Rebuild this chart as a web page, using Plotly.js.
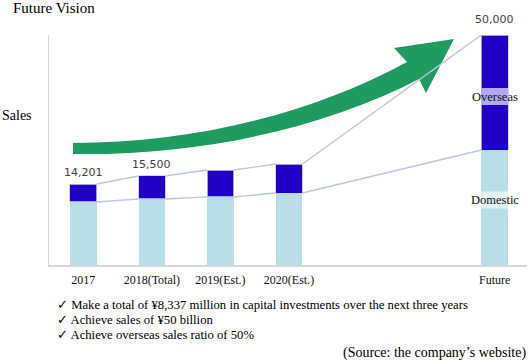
<!DOCTYPE html>
<html>
<head>
<meta charset="utf-8">
<script src="https://cdn.plot.ly/plotly-3.0.1.min.js"></script>
<style>html,body{margin:0;padding:0;background:#fff;}#chart{width:530px;height:360px;}</style>
</head>
<body>
<div id="chart"></div>
<script>
// ---- data ----
const categories = ['2017', '2018(Total)', '2019(Est.)', '2020(Est.)', 'Future'];
const domestic = [13700, 14350, 14800, 15650, 25000];
const overseas = [3900, 5000, 5850, 6300, 25000];
const totalLabels = ['14,201', '15,500', '', '', '50,000'];
const segmentNames = ['Domestic', 'Overseas'];
const checklist = [
  'Make a total of ¥8,337 million in capital investments over the next three years',
  'Achieve sales of ¥50 billion',
  'Achieve overseas sales ratio of 50%'
];
const titleText = 'Future Vision';
const yLabel = 'Sales';
const sourceText = '(Source: the company\u2019s website)';

// ---- layout helpers ----
const slotOrder = ['2017', '2018(Total)', '2019(Est.)', '2020(Est.)', '', ' ', 'Future'];
const xs = categories.map(c => slotOrder.indexOf(c));
const W = 0.39;
const totals = domestic.map((d, i) => d + overseas[i]);
const yMax = 50000;
const L = 49, T = 35, PW = 478, PH = 230;
const px = x => (x - L) / PW;
const py = y => (T + PH - y) / PH;
const unitsPerPx = yMax / PH;

function linkLine(vals) {
  const lx = [], ly = [];
  for (let i = 0; i < vals.length - 1; i++) {
    lx.push(xs[i] + W / 2, xs[i + 1] - W / 2, null);
    ly.push(vals[i], vals[i + 1], null);
  }
  return {x: lx, y: ly};
}
const topLink = linkLine(totals);
const midLink = linkLine(domestic);

const serif = 'Liberation Serif, Times New Roman, serif';

const traces = [
  {type: 'bar', x: xs, y: domestic, name: segmentNames[0], width: W,
   marker: {color: '#b7dde7', line: {width: 0}}, hoverinfo: 'skip'},
  {type: 'bar', x: xs, y: overseas, name: segmentNames[1], width: W,
   marker: {color: '#2000c6', line: {color: '#c4cbe0', width: 0.8}}, hoverinfo: 'skip'},
  {type: 'scatter', mode: 'lines', x: topLink.x, y: topLink.y, connectgaps: false,
   line: {color: '#bcc6d8', width: 1.4}, hoverinfo: 'skip'},
  {type: 'scatter', mode: 'lines', x: midLink.x, y: midLink.y, connectgaps: false,
   line: {color: '#bcc6d8', width: 1.4}, hoverinfo: 'skip'}
];

const annotations = [];
totals.forEach((t, i) => {
  if (!totalLabels[i]) return;
  annotations.push({x: xs[i], y: t, xref: 'x', yref: 'y', text: totalLabels[i],
    showarrow: false, yanchor: 'bottom', yshift: i === totals.length - 1 ? 7 : 3,
    font: {family: 'DejaVu Sans, Verdana, sans-serif', size: 11, color: '#404040'}});
});
const fi = categories.length - 1;
const ovCenter = domestic[fi] + overseas[fi] / 2 - 4 * unitsPerPx;
const doCenter = domestic[fi] / 2 + 7.5 * unitsPerPx;
annotations.push({x: xs[fi], y: ovCenter, xref: 'x', yref: 'y', text: segmentNames[1],
  showarrow: false, font: {family: serif, size: 12.5, color: '#111'}});
annotations.push({x: xs[fi], y: doCenter, xref: 'x', yref: 'y', text: segmentNames[0],
  showarrow: false, font: {family: serif, size: 12.5, color: '#111'}});

annotations.push({xref: 'paper', yref: 'paper', x: px(0), y: py(115), xanchor: 'left', yanchor: 'middle',
  text: yLabel, showarrow: false, font: {family: serif, size: 14, color: '#000'}});

checklist.forEach((t, i) => {
  annotations.push({xref: 'paper', yref: 'paper', x: px(55), y: py(305 + 15 * i), xanchor: 'left', yanchor: 'middle',
    text: '\u2713 ' + t, showarrow: false, font: {family: serif, size: 12.7, color: '#000'}});
});
annotations.push({xref: 'paper', yref: 'paper', x: px(528), y: py(353), xanchor: 'right', yanchor: 'middle',
  text: sourceText, showarrow: false, font: {family: serif, size: 14, color: '#000'}});

const P = (x, y) => px(x) + ',' + py(y);
const arrowPath = 'M ' + P(73, 143) + ' C ' + P(190, 143) + ' ' + P(310, 115) + ' ' + P(407, 62) +
  ' L ' + P(394, 48) + ' L ' + P(454, 39) + ' L ' + P(426, 93) + ' L ' + P(419, 79) +
  ' C ' + P(325, 128) + ' ' + P(200, 156) + ' ' + P(73, 154) + ' Z';

const bandHalf = 8.5 * unitsPerPx;
const shapes = [
  {type: 'path', xref: 'paper', yref: 'paper', path: arrowPath, fillcolor: '#1f9a60',
   line: {width: 0}, layer: 'below'},
  {type: 'rect', xref: 'x', yref: 'y', x0: xs[fi] - W / 2, x1: xs[fi] + W / 2,
   y0: ovCenter - bandHalf, y1: ovCenter + bandHalf, fillcolor: '#b2a9f0', line: {width: 0}, layer: 'above'},
  {type: 'rect', xref: 'x', yref: 'y', x0: xs[fi] - W / 2, x1: xs[fi] + W / 2,
   y0: doCenter - bandHalf, y1: doCenter + bandHalf, fillcolor: '#e2f1f6', line: {width: 0}, layer: 'above'}
];

const layout = {
  width: 530, height: 360,
  margin: {l: L, r: 530 - L - PW, t: T, b: 360 - T - PH, pad: 0},
  paper_bgcolor: '#fff', plot_bgcolor: 'rgba(0,0,0,0)',
  showlegend: false, barmode: 'stack',
  title: {text: titleText, xref: 'container', yref: 'container', x: 13 / 530, xanchor: 'left',
    y: 1 - 8 / 360, yanchor: 'middle', font: {family: serif, size: 15, color: '#000'}},
  xaxis: {range: [-0.5, 6.47], tickmode: 'array', tickvals: xs, ticktext: categories,
    showgrid: false, zeroline: false, showline: true, linecolor: '#d6d6d6', linewidth: 2,
    ticks: '', ticklabelstandoff: 3, tickfont: {family: serif, size: 12, color: '#111'}, fixedrange: true},
  yaxis: {range: [0, yMax], showgrid: false, zeroline: false, showticklabels: false,
    showline: true, linecolor: '#d6d6d6', linewidth: 1.5, ticks: '', fixedrange: true},
  annotations: annotations,
  shapes: shapes
};

Plotly.newPlot('chart', traces, layout, {displayModeBar: false, staticPlot: true});
</script>
</body>
</html>
